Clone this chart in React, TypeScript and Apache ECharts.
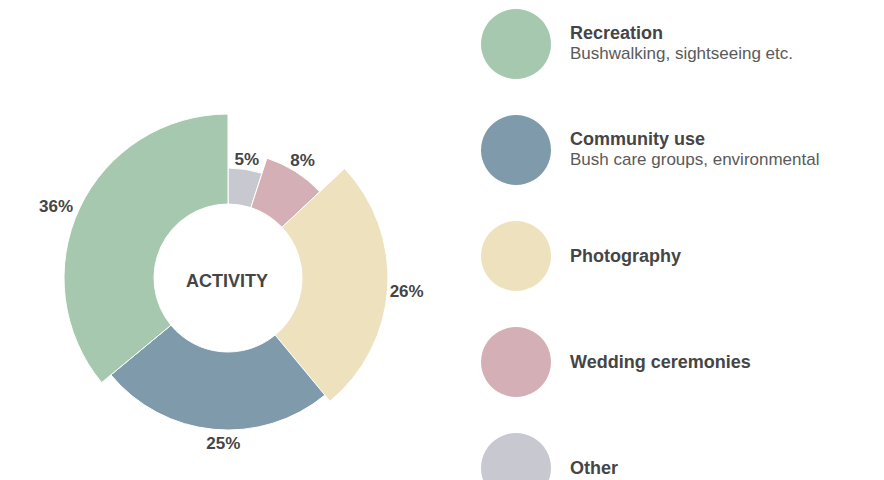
import React, { useEffect, useRef } from "react";
import * as echarts from "echarts";

// clockwise from 12 o'clock
const categories = ["Other", "Wedding ceremonies", "Photography", "Community use", "Recreation"];
const values = [5, 8, 26, 25, 36];
const descriptions = ["", "", "", "Bush care groups, environmental", "Bushwalking, sightseeing etc."];
const legendOrder = ["Recreation", "Community use", "Photography", "Wedding ceremonies", "Other"];
const centerTitle = "ACTIVITY";

const colors = ["#c8c9d0", "#d4b0b6", "#eee2be", "#7f9aab", "#a5c8af"];
const outerRadii = [110, 126, 160, 152, 164];
const labelLengths = [10, 13, 19, 14, 26];
const labelNudgeX = [0, 0, 0, 11, 0];
const labelNudgeY = [0, 0, 2, 0, 9];
const FONT = "'Liberation Sans', Arial, Helvetica, sans-serif";

export default function App() {
  const ref = useRef<HTMLDivElement>(null);
  useEffect(() => {
    if (!ref.current) return;
    const chart = echarts.init(ref.current, undefined, { renderer: "svg" });
    const series = categories.map((cat, i) => ({
      type: "pie",
      name: cat,
      center: [228, 278],
      radius: [74, outerRadii[i]],
      startAngle: 90,
      clockwise: true,
      silent: true,
      avoidLabelOverlap: false,
      label: { show: false },
      labelLine: { show: false, length: labelLengths[i], length2: 0 },
      labelLayout: { align: "center", dx: labelNudgeX[i], dy: labelNudgeY[i] },
      emphasis: { disabled: true },
      data: categories.map((n, j) => ({
        name: n,
        value: values[j],
        itemStyle:
          j === i
            ? { color: colors[j], borderColor: "#ffffff", borderWidth: 1 }
            : { color: "rgba(0,0,0,0)", borderWidth: 0 },
        label:
          j === i
            ? {
                show: true,
                position: "outside",
                formatter: "{c}%",
                distanceToLabelLine: 0,
                color: "#454545",
                fontSize: 17,
                fontWeight: "bold",
                fontFamily: FONT,
              }
            : { show: false },
      })),
    }));
    chart.setOption({
      animation: false,
      backgroundColor: "#ffffff",
      legend: {
        orient: "vertical",
        left: 481,
        top: 9,
        height: 700,
        padding: 0,
        itemWidth: 70,
        itemHeight: 70,
        itemGap: 36,
        icon: "circle",
        selectedMode: false,
        data: legendOrder.map((n) => ({
          name: n,
          itemStyle: { color: colors[categories.indexOf(n)], borderWidth: 0 },
        })),
        formatter: (name: string) => {
          const d = descriptions[categories.indexOf(name)];
          return d ? `{t|${name}}\n{s|${d}}` : `{t|${name}}`;
        },
        textStyle: {
          padding: [0, 0, 0, 14],
          rich: {
            t: { fontSize: 18, fontWeight: "bold", color: "#454545", lineHeight: 23, fontFamily: FONT },
            s: { fontSize: 17, color: "#5a5a5a", lineHeight: 23, padding: [0, 0, 5, 0], fontFamily: FONT },
          },
        },
      },
      graphic: [
        {
          type: "text",
          x: 227,
          y: 281,
          style: {
            text: centerTitle,
            align: "center",
            verticalAlign: "middle",
            fontSize: 18,
            fontWeight: "bold",
            fill: "#454545",
            fontFamily: FONT,
          },
        },
      ],
      series,
    });
    return () => chart.dispose();
  }, []);
  return (
    <div
      ref={ref}
      style={{ position: "fixed", left: 0, top: 0, width: 884, height: 480 }}
    />
  );
}
